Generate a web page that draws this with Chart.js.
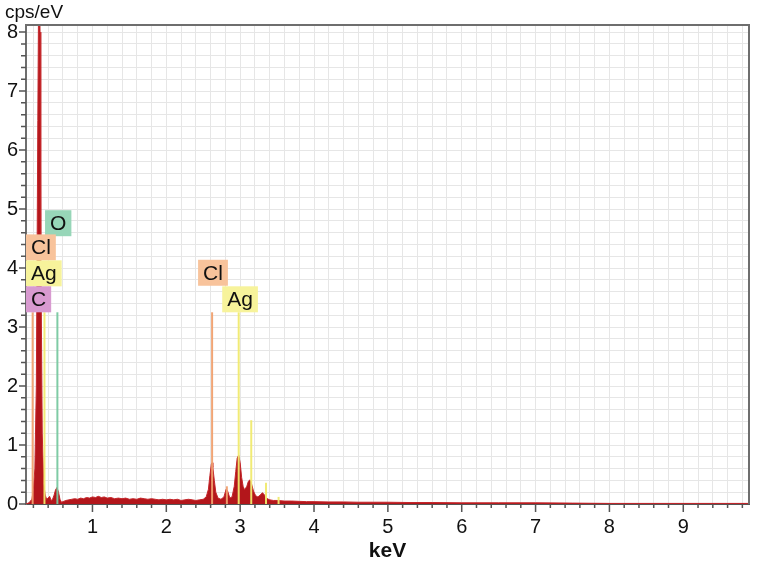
<!DOCTYPE html>
<html>
<head>
<meta charset="utf-8">
<script src="https://cdn.jsdelivr.net/npm/chart.js@4.4.1/dist/chart.umd.min.js"></script>
<style>
  html, body { margin: 0; padding: 0; background: #fff; }
  #wrap { width: 759px; height: 569px; }
</style>
</head>
<body>
<div id="wrap"><canvas id="chartId" width="759" height="569"></canvas></div>
<script>
// spectrum (keV, cps/eV)
const energy = [0.10, 0.14, 0.18, 0.20, 0.22, 0.24, 0.26, 0.27, 0.28, 0.29, 0.30, 0.32, 0.34, 0.36, 0.38,
    0.40, 0.42, 0.44, 0.46, 0.48, 0.50, 0.52, 0.54, 0.56, 0.58, 0.60, 0.64, 0.68, 0.72, 0.76,
    0.80, 0.84, 0.88, 0.92, 0.96, 1.00, 1.04, 1.08, 1.12, 1.16, 1.20, 1.25, 1.30, 1.35, 1.40,
    1.45, 1.50, 1.55, 1.60, 1.65, 1.70, 1.75, 1.80, 1.85, 1.90, 1.95, 2.00, 2.05, 2.10, 2.15,
    2.20, 2.25, 2.30, 2.35, 2.40, 2.45, 2.50, 2.54, 2.57, 2.59, 2.61, 2.62, 2.63, 2.65, 2.67,
    2.70, 2.74, 2.78, 2.81, 2.83, 2.86, 2.89, 2.92, 2.94, 2.96, 2.98, 3.00, 3.02, 3.04, 3.06,
    3.09, 3.11, 3.13, 3.15, 3.18, 3.21, 3.24, 3.27, 3.30, 3.32, 3.35, 3.40, 3.45, 3.50, 3.60,
    3.70, 3.80, 3.90, 4.00, 4.20, 4.40, 4.60, 4.80, 5.00, 5.30, 5.60, 6.00, 6.50, 7.00, 7.50,
    8.00, 9.00, 9.90];
const cps = [0.00, 0.02, 0.08, 0.25, 0.60, 2.00, 6.50, 8.50, 9.00, 8.00, 4.50, 1.20, 0.35, 0.15, 0.08,
    0.10, 0.13, 0.06, 0.08, 0.15, 0.24, 0.28, 0.20, 0.08, 0.03, 0.04, 0.06, 0.07, 0.08, 0.09,
    0.08, 0.10, 0.09, 0.11, 0.10, 0.12, 0.11, 0.13, 0.11, 0.12, 0.10, 0.11, 0.09, 0.10, 0.09,
    0.10, 0.08, 0.09, 0.08, 0.10, 0.09, 0.08, 0.09, 0.08, 0.07, 0.08, 0.07, 0.08, 0.07, 0.08,
    0.06, 0.07, 0.08, 0.07, 0.06, 0.07, 0.08, 0.12, 0.25, 0.48, 0.68, 0.70, 0.62, 0.40, 0.20,
    0.10, 0.08, 0.12, 0.25, 0.22, 0.10, 0.12, 0.30, 0.55, 0.78, 0.83, 0.70, 0.45, 0.30, 0.24,
    0.30, 0.38, 0.41, 0.36, 0.22, 0.14, 0.12, 0.15, 0.19, 0.17, 0.10, 0.07, 0.06, 0.06, 0.05,
    0.05, 0.045, 0.04, 0.04, 0.035, 0.035, 0.03, 0.03, 0.03, 0.025, 0.025, 0.02, 0.02, 0.02, 0.015,
    0.01, 0.01, 0.01];

// element marker lines
const lineElement = ['Cl', 'C', 'Ag', 'O', 'Cl', 'Cl', 'Ag', 'Ag', 'Ag', 'Ag'];
const lineEnergy = [0.19, 0.277, 0.35, 0.525, 2.62, 2.82, 2.98, 3.15, 3.35, 3.52];
const lineHeight = [3.25, 3.25, 3.25, 3.25, 3.25, 0.30, 3.25, 1.42, 0.36, 0.12];

// element label boxes (left edge in keV, centre in cps/eV)
const labelText = ['O', 'Cl', 'Ag', 'C', 'Cl', 'Ag'];
const labelX = [0.358, 0.10, 0.10, 0.10, 2.43, 2.757];
const labelY = [4.76, 4.35, 3.91, 3.47, 3.92, 3.47];

const lineColors = { Cl: 'rgba(240,160,110,0.95)', Ag: 'rgba(240,234,110,0.95)', O: 'rgba(120,200,160,0.95)', C: 'rgba(208,140,200,0.95)' };
const boxColors = { Cl: '#f8c39b', Ag: '#f7f39b', O: '#97d6b8', C: '#d89ad0' };
const FONT = "'Liberation Sans', Arial, sans-serif";

const isWhole = v => Math.abs(v - Math.round(v)) < 1e-6;

// element lines as two-point datasets
const markerSets = lineEnergy.map((e, i) => ({
    type: 'line',
    data: [{ x: e, y: 0 }, { x: e, y: lineHeight[i] }],
    borderColor: lineColors[lineElement[i]],
    borderWidth: 2,
    pointRadius: 0,
    fill: false,
    order: lineElement[i] === 'C' ? 2 : 0
}));

// ticks, frame, axis titles and element boxes
const extrasPlugin = {
    id: 'extras',
    afterDraw(chart) {
        const { ctx, chartArea: a, scales: { x, y } } = chart;
        ctx.save();

        // frame top and right
        ctx.strokeStyle = '#6e6e6e';
        ctx.lineWidth = 2;
        ctx.beginPath();
        ctx.moveTo(a.left, a.top);
        ctx.lineTo(a.right, a.top);
        ctx.lineTo(a.right, a.bottom);
        ctx.stroke();

        // tick marks
        ctx.strokeStyle = '#555';
        ctx.lineWidth = 1.5;
        ctx.beginPath();
        x.ticks.forEach(t => {
            const px = x.getPixelForValue(t.value);
            ctx.moveTo(px, a.bottom);
            ctx.lineTo(px, a.bottom + (isWhole(t.value) ? 8 : 4));
        });
        y.ticks.forEach(t => {
            const py = y.getPixelForValue(t.value);
            ctx.moveTo(a.left, py);
            ctx.lineTo(a.left - (isWhole(t.value) ? 7 : 5), py);
        });
        ctx.stroke();

        // axis titles
        ctx.fillStyle = '#111';
        ctx.font = '19px ' + FONT;
        ctx.textAlign = 'left';
        ctx.textBaseline = 'middle';
        ctx.fillText('cps/eV', 5, 13);
        ctx.font = 'bold 21px ' + FONT;
        ctx.textAlign = 'center';
        ctx.fillText('keV', (a.left + a.right) / 2, 551);

        // element boxes
        ctx.font = '21px ' + FONT;
        ctx.textAlign = 'left';
        labelText.forEach((txt, i) => {
            const bx = x.getPixelForValue(labelX[i]);
            const cy = y.getPixelForValue(labelY[i]);
            const w = ctx.measureText(txt).width + 10;
            ctx.fillStyle = boxColors[txt];
            ctx.fillRect(bx, cy - 13, w, 26);
            ctx.fillStyle = '#111';
            ctx.fillText(txt, bx + 5, cy + 1);
        });
        ctx.restore();
    }
};

const chart = new Chart(document.getElementById('chartId').getContext('2d'), {
    type: 'line',
    data: {
        datasets: [
            {
                data: energy.map((e, i) => ({ x: e, y: cps[i] })),
                borderColor: '#c4262a',
                backgroundColor: '#b3161b',
                borderWidth: 1,
                pointRadius: 0,
                tension: 0,
                fill: 'origin',
                order: 1
            },
            ...markerSets
        ]
    },
    options: {
        responsive: false,
        animation: false,
        layout: { padding: { top: 25, right: 10, left: 0, bottom: 0 } },
        plugins: { legend: { display: false }, tooltip: { enabled: false } },
        scales: {
            x: {
                type: 'linear',
                min: 0.1,
                max: 9.89,
                afterFit: s => { s.height = 65; },
                border: { display: true, color: '#555', width: 2 },
                grid: { color: '#e6e6e6', lineWidth: 1, drawTicks: false },
                ticks: {
                    stepSize: 0.2,
                    includeBounds: false,
                    autoSkip: false,
                    maxRotation: 0,
                    padding: 11,
                    color: '#111',
                    font: { family: FONT, size: 20 },
                    callback: v => (isWhole(v) && Math.round(v) >= 1 ? String(Math.round(v)) : '')
                }
            },
            y: {
                min: 0,
                max: 8.12,
                afterFit: s => { s.width = 26; },
                border: { display: true, color: '#6e6e6e', width: 2 },
                grid: { color: '#e6e6e6', lineWidth: 1, drawTicks: false },
                ticks: {
                    stepSize: 0.2,
                    includeBounds: false,
                    autoSkip: false,
                    padding: 8,
                    color: '#111',
                    font: { family: FONT, size: 20 },
                    callback: v => (isWhole(v) ? String(Math.round(v)) : '')
                }
            }
        }
    },
    plugins: [extrasPlugin]
});
</script>
</body>
</html>
